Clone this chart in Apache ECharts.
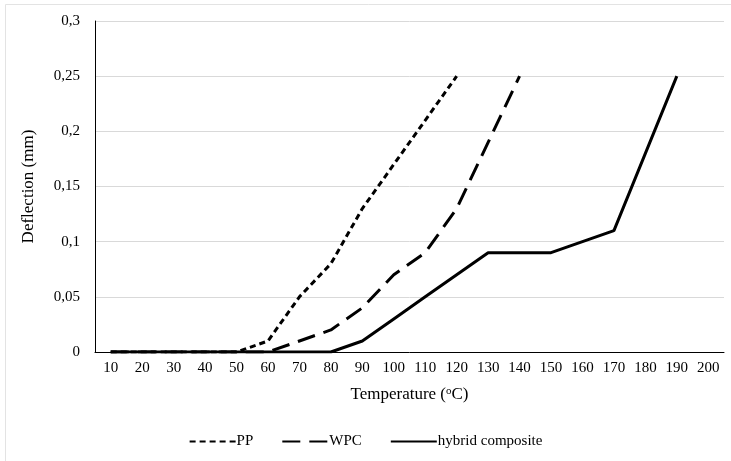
<!DOCTYPE html>
<html>
<head>
<meta charset="utf-8">
<script src="https://cdn.jsdelivr.net/npm/echarts@6/dist/echarts.min.js"></script>
<style>
  html, body { margin: 0; padding: 0; background: #fff; }
  #chart { width: 731px; height: 461px; }
</style>
</head>
<body>
<div id="chart"></div>
<script>
var temps = ['10', '20', '30', '40', '50', '60', '70', '80', '90', '100',
             '110', '120', '130', '140', '150', '160', '170', '180', '190', '200'];
var ppData = [0, 0, 0, 0, 0, 0.01, 0.05, 0.08, 0.13, 0.17, 0.21, 0.25];
var wpcData = [0, 0, 0, 0, 0, 0, 0.01, 0.02, 0.04, 0.07, 0.09, 0.13, 0.19, 0.25];
var hybridData = [0, 0, 0, 0, 0, 0, 0, 0, 0.01, 0.03, 0.05, 0.07, 0.09, 0.09, 0.09, 0.10, 0.11, 0.18, 0.25];

var font = '"Liberation Serif", "DejaVu Serif", serif';

var myChart = echarts.init(document.getElementById('chart'));

function lineSeries(name, data, dash) {
    return {
        name: name,
        type: 'line',
        data: data,
        symbol: 'none',
        lineStyle: { color: '#000', width: 3, type: dash },
        itemStyle: { color: '#000' }
    };
}

var option = {
    animation: false,
    backgroundColor: '#fff',
    textStyle: { fontFamily: font },
    graphic: [{
        type: 'rect',
        shape: { x: 5.5, y: 4.5, width: 740, height: 470 },
        style: { fill: 'none', stroke: '#e3e3e3', lineWidth: 1 },
        silent: true
    }],
    grid: { left: 95, right: 7, top: 21, bottom: 109 },
    legend: {
        bottom: 7,
        left: 'center',
        itemWidth: 46,
        itemHeight: 10,
        itemGap: 28,
        itemStyle: { opacity: 0 },
        textStyle: { fontFamily: font, fontSize: 15, color: '#000', padding: [0, 0, 0, -4] },
        data: ['PP', 'WPC', 'hybrid composite']
    },
    xAxis: {
        type: 'category',
        data: temps,
        boundaryGap: true,
        name: 'Temperature ({sup|o}C)',
        nameLocation: 'middle',
        nameGap: 34,
        nameTextStyle: {
            fontFamily: font, fontSize: 17, color: '#000',
            rich: { sup: { fontFamily: font, fontSize: 11, color: '#000', verticalAlign: 'top', padding: [0, 0, 6, 0] } }
        },
        axisLine: { lineStyle: { color: '#000', width: 1 } },
        axisTick: { show: false },
        axisLabel: { fontFamily: font, fontSize: 15, color: '#000', margin: 9, interval: 0 },
        splitLine: { show: false }
    },
    yAxis: {
        type: 'value',
        min: 0,
        max: 0.3,
        interval: 0.05,
        name: 'Deflection (mm)',
        nameLocation: 'middle',
        nameGap: 58,
        nameTextStyle: { fontFamily: font, fontSize: 17, color: '#000' },
        axisLine: { show: true, lineStyle: { color: '#000', width: 1 } },
        axisTick: { show: false },
        axisLabel: {
            fontFamily: font, fontSize: 15, color: '#000', margin: 15,
            formatter: function (v) { return (Math.round(v * 100) / 100).toString().replace('.', ','); }
        },
        splitLine: { lineStyle: { color: '#d9d9d9', width: 1 } }
    },
    series: [
        lineSeries('PP', ppData, [6, 4]),
        lineSeries('WPC', wpcData, [18, 9]),
        lineSeries('hybrid composite', hybridData, 'solid')
    ]
};

myChart.setOption(option);
window.addEventListener('resize', function () {
    myChart.resize();
});
</script>
</body>
</html>
